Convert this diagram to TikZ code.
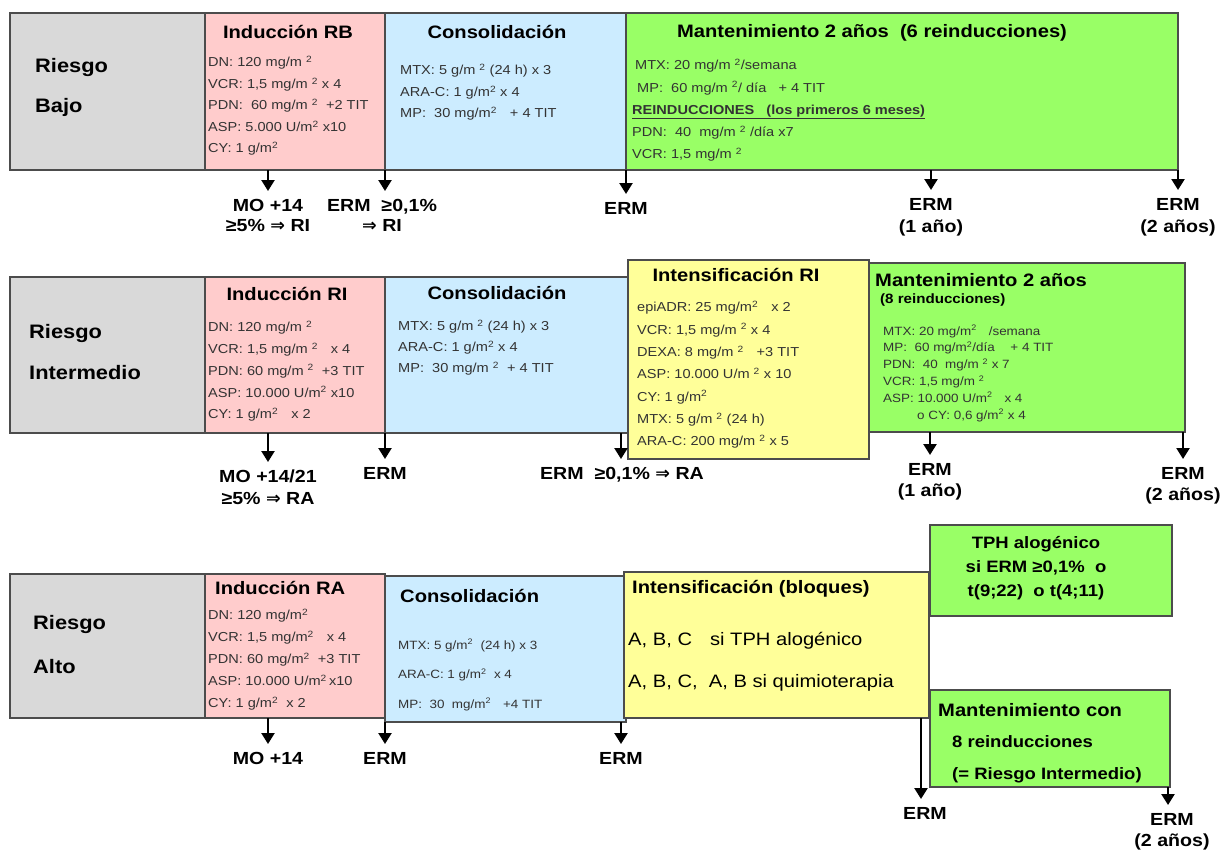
\documentclass[tikz,border=0pt]{standalone}
\usepackage{fontspec}
\setmainfont{Liberation Sans}[FakeStretch=1.12]
\newfontfamily\symf{DejaVu Sans}
\usetikzlibrary{arrows.meta,fit,positioning}

\definecolor{riskgray}{HTML}{D9D9D9}
\definecolor{indpink}{HTML}{FFCCCC}
\definecolor{conblue}{HTML}{CCECFF}
\definecolor{mangreen}{HTML}{99FF66}
\definecolor{intyellow}{HTML}{FFFF99}

\newcommand{\msq}{\textsuperscript{2}}
\newcommand{\imp}{{\symf ⇒}}

\tikzset{
        phase/.style={draw=black!70, line width=1.2pt, inner sep=0pt, outer sep=0pt},
        risk/.style={font=\bfseries\fontsize{19.5}{#1}\selectfont, align=left, anchor=west, inner sep=0pt},
        risk/.default=40,
        ttl/.style={font=\bfseries\fontsize{18}{22}\selectfont, inner sep=0pt},
        dose/.style={font=\fontsize{13}{#1}\selectfont, text=black!80, align=left, anchor=north west, inner sep=0pt},
        dose/.default=21.5,
        lbl/.style={font=\bfseries\fontsize{17.5}{#1}\selectfont, align=center, anchor=north, inner sep=0pt},
        lbl/.default=21,
        arr/.style={line width=2.3pt, -{Triangle[width=13pt,length=11pt]}, shorten >=8pt},
}

\begin{document}
\begin{tikzpicture}[x=1pt, y=-1pt]
        \useasboundingbox (0,0) rectangle (1222,852);

        % Riesgo Bajo
        \node[phase, fill=riskgray, fit={(10,13) (205,170)}] (gray1) {};
        \node[phase, fill=indpink, fit={(205,13) (385,170)}] (ind1) {};
        \node[phase, fill=conblue, fit={(385,13) (626,170)}] (con1) {};
        \node[phase, fill=mangreen, fit={(626,13) (1178,170)}] (man1) {};

        \node[risk] (risk1) at (35,87) {Riesgo\\Bajo};
        \node[ttl] (ind1t) at (288,32) {Inducción RB};
        \node[dose] (ind1d) at (208,56) {DN: 120 mg/m \msq\\VCR: 1,5 mg/m \msq\ x 4\\PDN:\ \ 60 mg/m \msq\ \ +2 TIT\\ASP: 5.000 U/m\msq\ x10\\CY: 1 g/m\msq};
        \node[ttl] (con1t) at (497,32) {Consolidación};
        \node[dose] (con1d) at (400,64) {MTX: 5 g/m \msq\ (24 h) x 3\\ARA-C: 1 g/m\msq\ x 4\\MP:\ \ 30 mg/m\msq\quad + 4 TIT};
        \node[ttl] (man1t) at (872,33) {Mantenimiento 2 años\ \ (6 reinducciones)};
        \node[dose=22.2] (man1d) at (632,59) {\hspace{3pt}MTX:\ 20 mg/m \msq/semana\\\hspace{5pt}MP:\ \ 60 mg/m \msq/ día\ \ \ + 4 TIT\\\textbf{\underline{REINDUCCIONES\ \ \ (los primeros 6 meses)}}\\PDN:\ \ 40\ \ mg/m \msq\ /día x7\\VCR: 1,5 mg/m \msq};

        \coordinate (p11) at (268,170);
        \coordinate (p12) at (385,170);
        \coordinate (p13) at (626,170);
        \coordinate (p14) at (931,170);
        \coordinate (p15) at (1178,170);
        \node[lbl=20] (mo1) at (268,199) {MO +14\\≥5\% \imp\ RI};
        \node[lbl=20] (erm12) at (382,199) {ERM\ \ ≥0,1\%\\\imp\ RI};
        \node[lbl] (erm13) at (626,202) {ERM};
        \node[lbl=22] (erm14) at (931,198) {ERM\\(1 año)};
        \node[lbl=22] (erm15) at (1178,198) {ERM\\(2 años)};

        % Riesgo Intermedio
        \node[phase, fill=riskgray, fit={(10,277) (205,433)}] (gray2) {};
        \node[phase, fill=indpink, fit={(205,277) (385,433)}] (ind2) {};
        \node[phase, fill=conblue, fit={(385,277) (630,433)}] (con2) {};
        \node[phase, fill=intyellow, fit={(628,260) (869,459)}] (int2) {};
        \node[phase, fill=mangreen, fit={(869,263) (1185,432)}] (man2) {};

        \node[risk=41] (risk2) at (29,352) {Riesgo\\Intermedio};
        \node[ttl] (ind2t) at (287,294) {Inducción RI};
        \node[dose=21.7] (ind2d) at (208,321) {DN: 120 mg/m \msq\\VCR: 1,5 mg/m \msq\quad x 4\\PDN: 60 mg/m \msq\ \ +3 TIT\\ASP: 10.000 U/m\msq\ x10\\CY: 1 g/m\msq\quad x 2};
        \node[ttl] (con2t) at (497,293) {Consolidación};
        \node[dose=21] (con2d) at (398,320) {MTX: 5 g/m \msq\ (24 h) x 3\\ARA-C: 1 g/m\msq\ x 4\\MP:\ \ 30 mg/m \msq\ \ + 4 TIT};
        \node[ttl] (int2t) at (736,275) {Intensificación RI};
        \node[dose=22.3] (int2d) at (637,301) {epiADR: 25 mg/m\msq\quad x 2\\VCR: 1,5 mg/m \msq\ x 4\\DEXA: 8 mg/m \msq\quad +3 TIT\\ASP: 10.000 U/m \msq\ x 10\\CY: 1 g/m\msq\\MTX: 5 g/m \msq\ (24 h)\\ARA-C: 200 mg/m \msq\ x 5};
        \node[ttl, anchor=west] (man2t) at (875,280) {Mantenimiento 2 años};
        \node[ttl, anchor=west, font=\bfseries\fontsize{13.5}{16}\selectfont] (man2s) at (880,300) {(8 reinducciones)};
        \node[dose=16.8, font=\fontsize{12}{16.8}\selectfont] (man2d) at (883,325) {MTX: 20 mg/m\msq\quad /semana\\MP:\ \ 60 mg/m\msq/día\quad\ + 4 TIT\\PDN:\ \ 40\ \ mg/m \msq\ x 7\\VCR: 1,5 mg/m \msq\\ASP: 10.000 U/m\msq\quad x 4\\\hspace{34pt}o CY: 0,6 g/m\msq\ x 4};

        \coordinate (p21) at (268,433);
        \coordinate (p22) at (385,433);
        \coordinate (p23) at (621,433);
        \coordinate (p24) at (930,432);
        \coordinate (p25) at (1183,432);
        \node[lbl=22] (mo2) at (268,470) {MO +14/21\\≥5\% \imp\ RA};
        \node[lbl] (erm22) at (385,467) {ERM};
        \node[lbl] (erm23) at (622,467) {ERM\ \ ≥0,1\% \imp\ RA};
        \node[lbl=21] (erm24) at (930,463) {ERM\\(1 año)};
        \node[lbl=21] (erm25) at (1183,467) {ERM\\(2 años)};

        % Riesgo Alto
        \node[phase, fill=riskgray, fit={(10,574) (205,718)}] (gray3) {};
        \node[phase, fill=indpink, fit={(205,574) (385,718)}] (ind3) {};
        \node[phase, fill=conblue, fit={(385,576) (626,722)}] (con3) {};
        \node[phase, fill=intyellow, fit={(624,572) (929,718)}] (int3) {};
        \node[phase, fill=mangreen, fit={(930,525) (1172,616)}] (tph3) {};
        \node[phase, fill=mangreen, fit={(930,690) (1170,787)}] (mc3) {};

        \node[risk=44] (risk3) at (33,645) {Riesgo\\Alto};
        \node[ttl, anchor=west] (ind3t) at (215,588) {Inducción RA};
        \node[dose=22] (ind3d) at (208,609) {DN: 120 mg/m\msq\\VCR: 1,5 mg/m\msq\quad x 4\\PDN: 60 mg/m\msq\ \ +3 TIT\\ASP: 10.000 U/m\msq\,x10\\CY: 1 g/m\msq\ \ x 2};
        \node[ttl, anchor=west] (con3t) at (400,596) {Consolidación};
        \node[dose=29.5, font=\fontsize{12}{29.5}\selectfont] (con3d) at (398,639) {MTX: 5 g/m\msq\ \ (24 h) x 3\\ARA-C: 1 g/m\msq\ \ x 4\\MP:\ \ 30\ \ mg/m\msq\quad +4 TIT};
        \node[ttl, anchor=west] (int3t) at (632,589) {Intensificación (bloques)};
        \node[anchor=west, inner sep=0pt, font=\fontsize{18}{22}\selectfont] (int3a) at (628,641) {A, B, C\quad si TPH alogénico};
        \node[anchor=west, inner sep=0pt, font=\fontsize{18}{22}\selectfont] (int3b) at (628,683) {A, B, C,\ \ A, B si quimioterapia};
        \node[align=center, inner sep=0pt, font=\bfseries\fontsize{16.5}{24}\selectfont] (tph3t) at (1036,568) {TPH alogénico\\si ERM ≥0,1\%\ \ o\\t(9;22)\ \ o t(4;11)};
        \node[ttl, anchor=west] (mc3t) at (938,710) {Mantenimiento con};
        \node[anchor=west, inner sep=0pt, font=\bfseries\fontsize{16.5}{20}\selectfont] (mc3a) at (952,742) {8 reinducciones};
        \node[anchor=west, inner sep=0pt, font=\bfseries\fontsize{16.5}{20}\selectfont] (mc3b) at (952,775) {(= Riesgo Intermedio)};

        \coordinate (p31) at (268,718);
        \coordinate (p32) at (385,722);
        \coordinate (p33) at (621,722);
        \coordinate (p34) at (921,718);
        \coordinate (p35) at (1168,787);
        \node[lbl] (mo3) at (268,752) {MO +14};
        \node[lbl] (erm32) at (385,752) {ERM};
        \node[lbl] (erm33) at (621,752) {ERM};
        \node[lbl] (erm34) at (925,807) {ERM};
        \node[lbl=21] (erm35) at (1172,813) {ERM\\(2 años)};

        \foreach \p/\l in {p11/mo1, p12/erm12, p13/erm13, p14/erm14, p15/erm15,
                p21/mo2, p22/erm22, p23/erm23, p24/erm24, p25/erm25,
                p31/mo3, p32/erm32, p33/erm33, p34/erm34, p35/erm35}
        {
                \draw[arr] (\p) -- (\p |- \l.north);
        }

\end{tikzpicture}
\end{document}
